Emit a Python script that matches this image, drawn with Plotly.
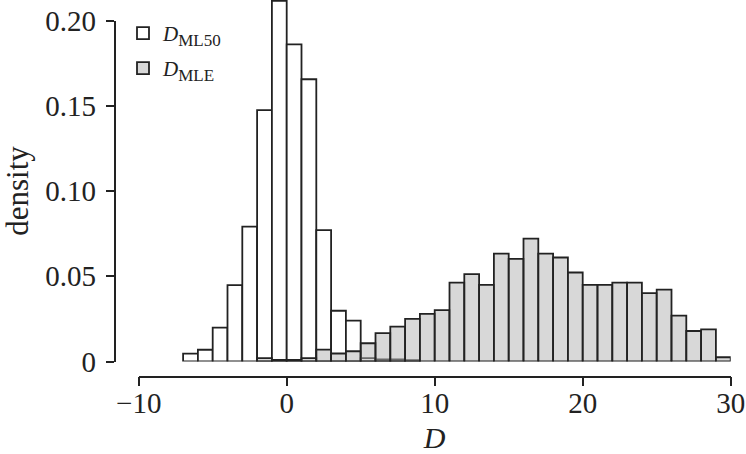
import plotly.graph_objects as go

W, H = 746, 454

# histogram bins: left edges, width 1
ml50_bins = [-7, -6, -5, -4, -3, -2, -1, 0, 1, 2, 3, 4, 5, 6, 7, 8]
ml50_density = [0.0046, 0.0069, 0.0199, 0.0449, 0.0792, 0.1477, 0.2118, 0.1863,
                0.1658, 0.0772, 0.0298, 0.0240, 0.0020, 0.0012, 0.0012, 0.0008]

mle_bins = [-2, -1, 0, 1, 2, 3, 4, 5, 6, 7, 8, 9, 10, 11, 12, 13,
            14, 15, 16, 17, 18, 19, 20, 21, 22, 23, 24, 25, 26, 27, 28, 29]
mle_density = [0.0020, 0.0010, 0.0010, 0.0020, 0.0070, 0.0047, 0.0060, 0.0107,
               0.0166, 0.0204, 0.0250, 0.0279, 0.0301, 0.0463, 0.0512, 0.0449,
               0.0633, 0.0602, 0.0721, 0.0633, 0.0610, 0.0522, 0.0449, 0.0449,
               0.0463, 0.0463, 0.0401, 0.0422, 0.0269, 0.0179, 0.0189, 0.0025]

x_ticks = [-10, 0, 10, 20, 30]
x_labels = ["\u221210", "0", "10", "20", "30"]
y_ticks = [0, 0.05, 0.10, 0.15, 0.20]
y_labels = ["0", "0.05", "0.10", "0.15", "0.20"]

FONT = "Liberation Serif"
INK = "#222222"


def px(x):
    return x / W


def py(y):
    return 1 - y / H


def legend_name(sub):
    return "<i>D</i><sub><span style='font-size:17px'>%s</span></sub>" % sub


fig = go.Figure()

fig.add_trace(go.Bar(x=ml50_bins, y=ml50_density, offset=0, width=1,
                     name=legend_name("ML50"), showlegend=True,
                     marker=dict(color="white", line=dict(color=INK, width=1.8)),
                     xaxis="x", yaxis="y", legend="legend"))

fig.add_trace(go.Bar(x=mle_bins, y=mle_density, offset=0, width=1,
                     name=legend_name("MLE"), showlegend=True,
                     marker=dict(color="rgba(178,178,178,0.5)", line=dict(color=INK, width=1.8)),
                     xaxis="x", yaxis="y2", legend="legend2"))

y_scale = 340.5 / 0.2  # pixels per density unit

fig.update_layout(
    width=W, height=H,
    margin=dict(l=0, r=0, t=0, b=0),
    paper_bgcolor="white",
    plot_bgcolor="rgba(0,0,0,0)",
    barmode="overlay",
    showlegend=True,
    font=dict(family=FONT, color=INK),
    xaxis=dict(domain=[px(138.7), px(730.7)], range=[-10, 30],
               anchor="free", position=py(376.5),
               showline=True, linecolor=INK, linewidth=1.6,
               ticks="outside", ticklen=9, tickwidth=1.6, tickcolor=INK,
               tickvals=x_ticks, ticktext=x_labels, tickfont=dict(size=29),
               ticklabelstandoff=-8,
               showgrid=False, zeroline=False, automargin=False,
               title=dict(text="<i>D</i>", font=dict(size=30), standoff=15)),
    yaxis=dict(domain=[py(361.5), 1], range=[0, 361.5 / y_scale],
               visible=False, showgrid=False, zeroline=False),
    yaxis2=dict(domain=[py(361.5), py(20.5)], range=[0, 0.2],
                anchor="free", position=px(114.5),
                showline=True, linecolor=INK, linewidth=1.6,
                ticks="outside", ticklen=8, tickwidth=1.6, tickcolor=INK,
                tickvals=y_ticks, ticktext=y_labels, tickfont=dict(size=29),
                ticklabelstandoff=4,
                showgrid=False, zeroline=False, automargin=False,
                title=dict(text="density", font=dict(size=31), standoff=8)),
    legend=dict(x=px(123), y=py(13), xanchor="left", yanchor="top",
                bgcolor="rgba(0,0,0,0)", font=dict(size=21)),
    legend2=dict(x=px(123), y=py(48), xanchor="left", yanchor="top",
                 bgcolor="rgba(0,0,0,0)", font=dict(size=21)),
)

fig.write_html("out.html", config={"displayModeBar": False},
               post_script="document.body.style.margin = '0px';")
